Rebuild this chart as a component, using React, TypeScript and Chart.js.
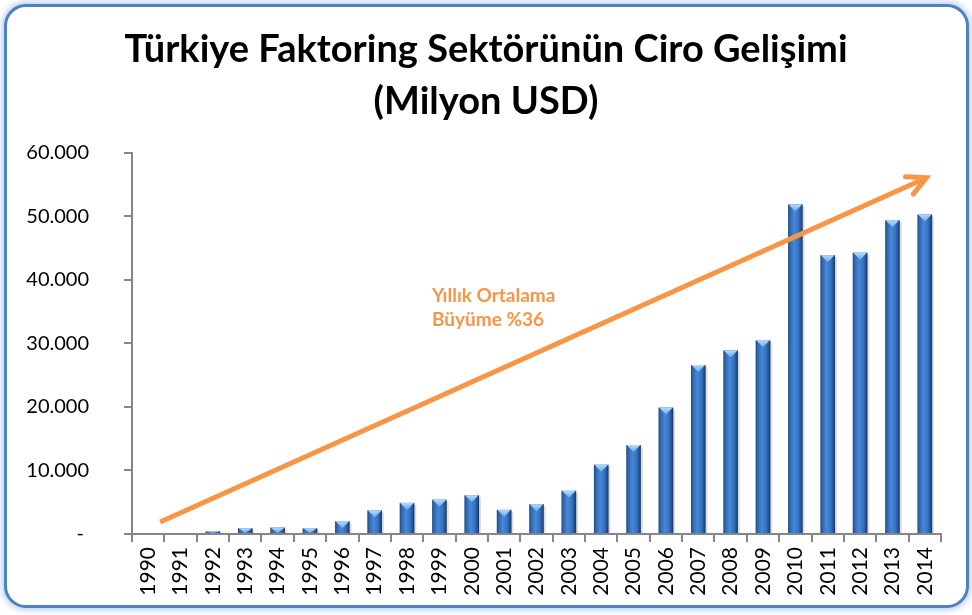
import React, { useEffect, useRef } from 'react';
import { Chart, registerables } from 'chart.js';

Chart.register(...registerables);

const titleLines = ['Türkiye Faktoring Sektörünün Ciro Gelişimi', '(Milyon USD)'];
const years = [
  '1990', '1991', '1992', '1993', '1994', '1995', '1996', '1997', '1998', '1999',
  '2000', '2001', '2002', '2003', '2004', '2005', '2006', '2007', '2008', '2009',
  '2010', '2011', '2012', '2013', '2014',
];
const ciro = [
  0, 0, 400, 900, 1000, 900, 2000, 3700, 4900, 5400,
  6100, 3800, 4700, 6800, 10900, 14000, 19900, 26600, 28900, 30500,
  51900, 43900, 44300, 49400, 50300,
];
const yTicks = [0, 10000, 20000, 30000, 40000, 50000, 60000];
// trend arrow in data coordinates (category index, value)
const arrowStart = { x: 0.37, y: 1900 };
const arrowEnd = { x: 24.05, y: 56100 };
const noteLines = ['Yıllık Ortalama', 'Büyüme %36'];
const notePos = [
  { x: 8.77, y: 37500 },
  { x: 8.77, y: 33700 },
];

const ORANGE = '#F79646';
const AXIS = '#868686';

function fmt(v: number): string {
  if (v === 0) return '- ';
  const s = Math.round(v).toString();
  return s.replace(/\B(?=(\d{3})+(?!\d))/g, '.');
}

const cylinderBars = {
  id: 'cylinderBars',
  afterDatasetDraw(chart: any, args: any) {
    const ctx = chart.ctx as CanvasRenderingContext2D;
    args.meta.data.forEach((bar: any) => {
      const { x, y, base, width } = bar.getProps(['x', 'y', 'base', 'width'], true);
      const h = base - y;
      if (h <= 0.5) return;
      const l = x - width / 2;
      const r = x + width / 2;
      ctx.save();
      ctx.fillStyle = '#ffffff';
      ctx.fillRect(l, y, width, h);
      ctx.fillStyle = 'rgba(0,0,0,0.13)';
      ctx.fillRect(r, y + 2, 2, h - 2);
      const g = ctx.createLinearGradient(l, 0, r, 0);
      g.addColorStop(0, '#1d4679');
      g.addColorStop(0.12, '#2f66ad');
      g.addColorStop(0.42, '#4788d8');
      g.addColorStop(0.7, '#3674c4');
      g.addColorStop(0.9, '#22508f');
      g.addColorStop(1, '#142f55');
      ctx.fillStyle = g;
      ctx.fillRect(l, y, width, h);
      const bh = Math.min(7, h);
      const tg = ctx.createLinearGradient(0, y, 0, y + bh);
      tg.addColorStop(0, '#b3dafb');
      tg.addColorStop(1, '#6aa8ea');
      ctx.fillStyle = tg;
      ctx.beginPath();
      ctx.moveTo(l + 0.5, y);
      ctx.lineTo(r - 0.5, y);
      ctx.lineTo(x, y + bh);
      ctx.closePath();
      ctx.fill();
      ctx.restore();
    });
  },
};

const trendArrow = {
  id: 'trendArrow',
  afterDraw(chart: any) {
    const ctx = chart.ctx as CanvasRenderingContext2D;
    const xs = chart.scales.x;
    const ys = chart.scales.y;
    const x1 = xs.getPixelForValue(arrowStart.x);
    const y1 = ys.getPixelForValue(arrowStart.y);
    const x2 = xs.getPixelForValue(arrowEnd.x);
    const y2 = ys.getPixelForValue(arrowEnd.y);
    ctx.save();
    ctx.strokeStyle = ORANGE;
    ctx.lineWidth = 5;
    ctx.lineCap = 'butt';
    ctx.beginPath();
    ctx.moveTo(x1, y1);
    ctx.lineTo(x2, y2);
    ctx.stroke();
    const ang = Math.atan2(y1 - y2, x1 - x2);
    const len = 21;
    const spread = (27 * Math.PI) / 180;
    ctx.lineCap = 'round';
    ctx.lineJoin = 'miter';
    ctx.beginPath();
    ctx.moveTo(x2 + len * Math.cos(ang - spread), y2 + len * Math.sin(ang - spread));
    ctx.lineTo(x2, y2);
    ctx.lineTo(x2 + len * Math.cos(ang + spread), y2 + len * Math.sin(ang + spread));
    ctx.stroke();

    ctx.fillStyle = ORANGE;
    ctx.font = 'bold 19px Lato';
    ctx.textAlign = 'left';
    ctx.textBaseline = 'middle';
    noteLines.forEach((t, i) => {
      ctx.fillText(t, xs.getPixelForValue(notePos[i].x), ys.getPixelForValue(notePos[i].y));
    });
    ctx.restore();
  },
};

export default function App() {
  const ref = useRef<HTMLCanvasElement>(null);
  useEffect(() => {
    const chart = new Chart(ref.current as HTMLCanvasElement, {
      type: 'bar',
      data: {
        labels: years,
        datasets: [
          {
            data: ciro,
            backgroundColor: '#3A76C4',
            borderWidth: 0,
            categoryPercentage: 1,
            barPercentage: 0.45,
          },
        ],
      },
      plugins: [cylinderBars, trendArrow],
      options: {
        responsive: false,
        animation: false,
        layout: { padding: { left: 0, right: 0, top: 0, bottom: 0 } },
        plugins: {
          legend: { display: false },
          tooltip: { enabled: false },
          title: {
            display: true,
            text: titleLines,
            color: '#000000',
            font: { family: 'Lato', size: 38, weight: 'bold', lineHeight: 1.368 },
            padding: { top: 24, bottom: 25 },
          },
        },
        scales: {
          x: {
            grid: {
              display: true,
              drawOnChartArea: false,
              drawTicks: true,
              tickLength: 8,
              color: AXIS,
              lineWidth: 2,
              offset: true,
            },
            border: { display: true, color: AXIS, width: 2 },
            ticks: {
              autoSkip: false,
              maxRotation: 90,
              minRotation: 90,
              padding: 5,
              color: '#000000',
              font: { family: 'Lato', size: 21 },
            },
            afterFit: (s: any) => {
              s.height = 81;
            },
          },
          y: {
            min: 0,
            max: 60000,
            afterBuildTicks: (s: any) => {
              s.ticks = yTicks.map((v) => ({ value: v }));
            },
            grid: {
              display: true,
              drawOnChartArea: false,
              drawTicks: true,
              tickLength: 8,
              color: AXIS,
              lineWidth: 2,
            },
            border: { display: true, color: AXIS, width: 2 },
            ticks: {
              padding: 35,
              color: '#000000',
              font: { family: 'Lato', size: 20 },
              callback: (v: any) => fmt(Number(v)),
            },
            afterFit: (s: any) => {
              s.width = 132;
            },
          },
          ySpacer: {
            position: 'right',
            display: true,
            min: 0,
            max: 1,
            grid: { display: false },
            border: { display: false },
            ticks: { display: false },
            afterFit: (s: any) => {
              s.width = 31;
            },
          },
        },
      },
    } as any);
    return () => chart.destroy();
  }, []);

  return (
    <div style={{ position: 'fixed', left: 0, top: 0, width: 972, height: 615, background: '#ffffff', overflow: 'hidden' }}>
      <div
        style={{
          position: 'absolute',
          left: 4,
          top: 4,
          width: 965,
          height: 604,
          boxSizing: 'border-box',
          border: '3.5px solid #4F81BD',
          borderRadius: 22,
          boxShadow: '0 0 6px 2px rgba(120,165,220,0.55)',
          background: '#ffffff',
        }}
      />
      <canvas
        ref={ref}
        width={972}
        height={615}
        style={{ position: 'absolute', left: 0, top: 0, width: 972, height: 615 }}
      />
    </div>
  );
}
